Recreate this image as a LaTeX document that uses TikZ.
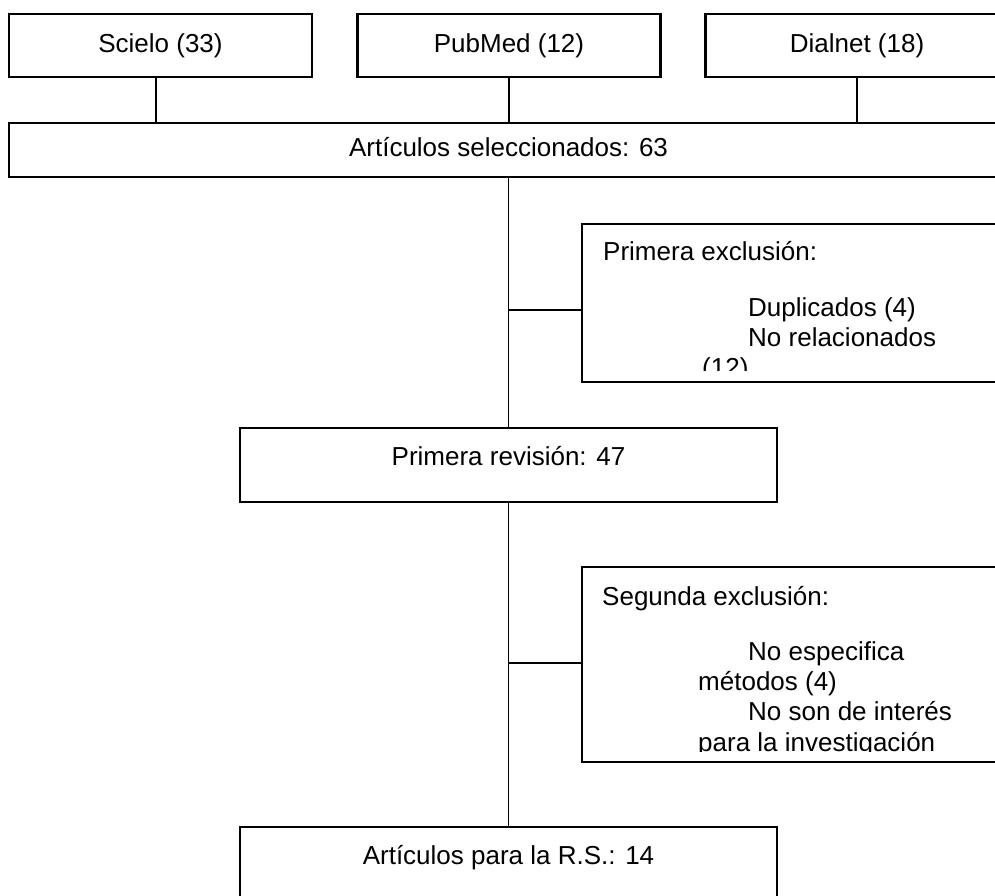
\documentclass[tikz,border=0pt]{standalone}
\usepackage{fontspec}
\setmainfont{Liberation Sans}
\begin{document}
\begin{tikzpicture}[x=1pt,y=-1pt,
  box/.style={draw, line width=2.2pt, inner sep=0pt, font=\fontsize{26}{30}\selectfont, text height=19pt, text depth=5pt},
  conn/.style={line width=1.4pt},
  txt/.style={inner sep=0pt, anchor=base west, font=\fontsize{26}{30}\selectfont}]
\useasboundingbox (0,0) rectangle (995,896);
\clip (0,0) rectangle (995,896);
% source boxes
\node[box, minimum width=303pt, minimum height=63pt] (scielo) at (160.5,45.5) {Scielo (33)};
\node[box, minimum width=303pt, minimum height=63pt] (pubmed) at (509,45.5) {PubMed (12)};
\node[box, minimum width=303pt, minimum height=63pt] (dialnet) at (857,45.5) {Dialnet (18)};
\node[box, minimum width=999pt, minimum height=54pt] (sel) at (508.5,150) {Artículos seleccionados: 63};
% exclusion and review boxes
\node[box, minimum width=426pt, minimum height=158pt] (exc1) at (795,303) {};
\node[box, minimum width=537pt, minimum height=74pt, text depth=19pt] (rev) at (508.5,465) {Primera revisión: 47};
\node[box, minimum width=426pt, minimum height=195pt] (exc2) at (795,664.5) {};
\node[box, minimum width=537pt, minimum height=74pt, text depth=19pt] (fin) at (508.5,864) {Artículos para la R.S.: 14};
% connectors
\draw[conn] ([xshift=-4.5pt]scielo.south) -- ([xshift=-4.5pt]scielo.south |- sel.north);
\draw[conn] (pubmed.south) -- (pubmed.south |- sel.north);
\draw[conn] (dialnet.south) -- (dialnet.south |- sel.north);
\draw[conn] (sel.south) -- (rev.north);
\draw[conn] (rev.south) -- (fin.north);
\coordinate (j1) at (508.5,310);
\coordinate (j2) at (508.5,663);
\draw[conn] (j1) -- (j1 -| exc1.west);
\draw[conn] (j2) -- (j2 -| exc2.west);
% exclusion texts (clipped like the reference)
\begin{scope}
\clip (582,224) rectangle (1008,370);
\node[txt] (e1a) at (603,260) {Primera exclusión:};
\node[txt] (e1b) at (748,316.7) {Duplicados (4)};
\node[txt] (e1c) at (748,346.7) {No relacionados};
\node[txt] (e1d) at (702,376.7) {(12)};
\end{scope}
\begin{scope}
\clip (582,567) rectangle (1008,751);
\node[txt] (e2a) at (602,605) {Segunda exclusión:};
\node[txt] (e2b) at (748,660) {No especifica};
\node[txt] (e2c) at (698,690) {métodos (4)};
\node[txt] (e2d) at (748,720) {No son de interés};
\node[txt] (e2e) at (698,751.5) {para la investigación};
\end{scope}
\end{tikzpicture}
\end{document}
